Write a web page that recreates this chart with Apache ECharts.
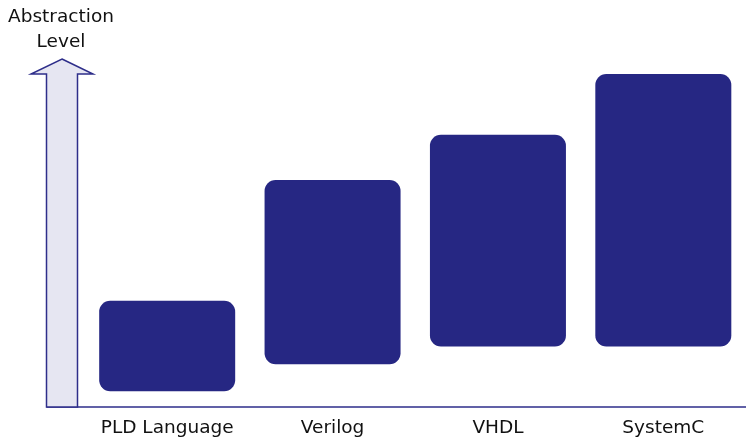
<!DOCTYPE html>
<html>
<head>
<meta charset="utf-8">
<script src="https://cdn.jsdelivr.net/npm/echarts@6/dist/echarts.min.js"></script>
<style>
  html, body { margin: 0; padding: 0; background: #fff; }
  #chart { width: 746px; height: 442px; }
</style>
</head>
<body>
<div id="chart"></div>
<script>
// languages and their abstraction range (0-100 scale)
var languages = ["PLD Language", "Verilog", "VHDL", "SystemC"];
var levelLow = [4.5, 12.3, 17.4, 17.4];
var levelHigh = [30.5, 65.2, 78.2, 95.7];

var barColor = "#262783";
var lineColor = "#2e2e8a";
var font = "DejaVu Sans";

var spans = levelHigh.map(function (h, i) {
  return +(h - levelLow[i]).toFixed(1);
});

var myChart = echarts.init(document.getElementById("chart"));
var option = {
  animation: false,
  textStyle: { fontFamily: font },
  grid: [
    { left: 84.5, width: 666, top: 59, bottom: 35 },
    { left: 47, right: 0, top: 59, bottom: 35 }
  ],
  xAxis: [
    {
      type: "category",
      gridIndex: 0,
      data: languages,
      axisLine: { show: false },
      axisTick: { show: false },
      axisLabel: { interval: 0, fontSize: 18.5, color: "#111", margin: 12, fontFamily: font }
    },
    {
      type: "value",
      gridIndex: 1,
      min: 0,
      max: 1,
      axisLine: { show: true, lineStyle: { color: lineColor, width: 1.5 } },
      axisTick: { show: false },
      axisLabel: { show: false },
      splitLine: { show: false }
    }
  ],
  yAxis: [
    { type: "value", gridIndex: 0, min: 0, max: 100, show: false },
    { type: "value", gridIndex: 1, min: 0, max: 1, show: false }
  ],
  series: [
    {
      type: "bar",
      stack: "lvl",
      data: levelLow,
      barWidth: 136,
      itemStyle: { color: "transparent" },
      silent: true
    },
    {
      type: "bar",
      stack: "lvl",
      data: spans,
      barWidth: 136,
      itemStyle: { color: barColor, borderRadius: 11 }
    }
  ],
  graphic: [
    {
      type: "polygon",
      z: 1,
      shape: {
        points: [[62, 59], [93, 74], [77.5, 74], [77.5, 407], [46.5, 407], [46.5, 74], [31, 74]]
      },
      style: { fill: "#e6e6f2", stroke: lineColor, lineWidth: 1.5 }
    },
    {
      type: "text",
      style: {
        x: 61,
        y: 5,
        text: "Abstraction\nLevel",
        fill: "#111",
        font: "18.5px 'DejaVu Sans'",
        align: "center",
        lineHeight: 25
      }
    }
  ]
};
myChart.setOption(option);
</script>
</body>
</html>
